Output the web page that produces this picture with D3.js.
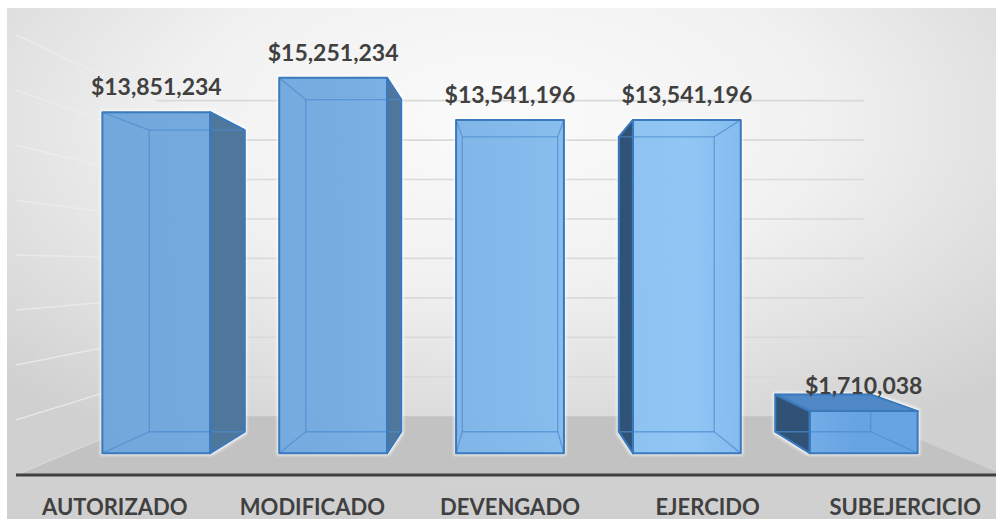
<!DOCTYPE html>
<html><head><meta charset="utf-8">
<script src="https://cdn.jsdelivr.net/npm/d3@7"></script>
<style>html,body{margin:0;padding:0;background:#fff;} svg{display:block;}</style>
</head><body>
<svg id="chart" width="996" height="519"></svg>
<script>
const categories = ["AUTORIZADO", "MODIFICADO", "DEVENGADO", "EJERCIDO", "SUBEJERCICIO"];
const values = [13851234, 15251234, 13541196, 13541196, 1710038];
const gridValues = [0, 2000000, 4000000, 6000000, 8000000, 10000000, 12000000, 14000000, 16000000];

const W = 996, H = 519;
const svg = d3.select("#chart");
const defs = svg.append("defs");

const bg = defs.append("radialGradient").attr("id", "bg")
  .attr("cx", 0.5).attr("cy", 0.22).attr("r", 0.72);
bg.append("stop").attr("offset", 0).attr("stop-color", "#fbfbfb");
bg.append("stop").attr("offset", 0.45).attr("stop-color", "#f1f1f1");
bg.append("stop").attr("offset", 1).attr("stop-color", "#d0d0d0");

const fg = defs.append("linearGradient").attr("id", "front")
  .attr("gradientUnits", "userSpaceOnUse").attr("x1", 0).attr("x2", W).attr("y1", 0).attr("y2", 0);
[[0.10, "#6aa3d9"], [0.33, "#6fa8de"], [0.51, "#7db6ea"], [0.69, "#8cc4f4"], [0.86, "#5f9fe1"]]
  .forEach(([o, c]) => fg.append("stop").attr("offset", o).attr("stop-color", c));

const glow = defs.append("filter").attr("id", "glow").attr("x", "-10%").attr("y", "-10%").attr("width", "120%").attr("height", "120%");
glow.append("feMorphology").attr("in", "SourceAlpha").attr("operator", "dilate").attr("radius", 1.5).attr("result", "d");
glow.append("feGaussianBlur").attr("in", "d").attr("stdDeviation", 1.5).attr("result", "b");
glow.append("feFlood").attr("flood-color", "#ffffff").attr("flood-opacity", 0.85);
glow.append("feComposite").attr("in2", "b").attr("operator", "in");

svg.append("rect").attr("x", 7).attr("y", 8).attr("width", W - 7).attr("height", H - 8).attr("fill", "url(#bg)");

// one-point perspective
const VX = 510, VY = 267;
const S_BAR_FRONT = 0.895, S_BAR_BACK = 0.792, S_WALL = 0.717;
const proj = (X, Y, s) => [VX + s * (X - VX), VY + s * (Y - VY)];

const x = d3.scaleBand().domain(categories).range([16, 1004]).paddingInner(0.39).paddingOuter(0.195);
const y = d3.scaleLinear().domain([0, 16000000]).range([475, 475 - 16 * 27.5]);
const fmt = d3.format("$,");
const line = d3.line();
const poly = pts => line(pts) + "Z";

const X0 = x.range()[0], X1 = x.range()[1];

// floor
svg.append("path")
  .attr("d", poly([proj(X0, y(0), 1), proj(X1, y(0), 1), proj(X1, y(0), S_WALL), proj(X0, y(0), S_WALL)]))
  .attr("fill", "#c2c2c2");

// gridlines: left wall and back wall
const grid = svg.append("g");
gridValues.forEach(v => {
  if (v > 0) {
    grid.append("path").attr("d", line([proj(X0, y(v), 1), proj(X0, y(v), S_WALL)]))
      .attr("stroke", "#eeeeee").attr("stroke-opacity", 0.75).attr("stroke-width", 1.4).attr("fill", "none");
    grid.append("path").attr("d", line([proj(X0, y(v), S_WALL), proj(X1, y(v), S_WALL)]))
      .attr("stroke", "#d9d9d9").attr("stroke-width", 1.6).attr("fill", "none");
  } else {
    grid.append("path").attr("d", line([proj(X0, y(v), 1), proj(X0, y(v), S_WALL)]))
      .attr("stroke", "#d8d8d8").attr("stroke-width", 1.2).attr("fill", "none");
  }
});

// axis line
svg.append("path").attr("d", line([proj(X0, y(0), 1), proj(X1, y(0), 1)]))
  .attr("stroke", "#404040").attr("stroke-width", 3);

// bars
const bars = svg.append("g");
categories.forEach((c, i) => {
  const a = x(c), b = a + x.bandwidth();
  const yt = y(values[i]), yb = y(0);
  const f = S_BAR_FRONT, k = S_BAR_BACK;
  const FTL = proj(a, yt, f), FTR = proj(b, yt, f), FBR = proj(b, yb, f), FBL = proj(a, yb, f);
  const BTL = proj(a, yt, k), BTR = proj(b, yt, k), BBR = proj(b, yb, k), BBL = proj(a, yb, k);
  const g = bars.append("g");
  const showRight = b < VX, showLeft = a > VX, showTop = yt > VY;
  // soft white halo
  const halo = g.append("g").attr("filter", "url(#glow)");
  halo.append("path").attr("d", poly([FTL, FTR, FBR, FBL])).attr("fill", "#000");
  if (showRight) halo.append("path").attr("d", poly([FTR, BTR, BBR, FBR])).attr("fill", "#000");
  if (showLeft) halo.append("path").attr("d", poly([FTL, BTL, BBL, FBL])).attr("fill", "#000");
  if (showTop) halo.append("path").attr("d", poly([FTL, FTR, BTR, BTL])).attr("fill", "#000");

  if (showRight) g.append("path").attr("d", poly([FTR, BTR, BBR, FBR])).attr("fill", "#4f779c");
  if (showLeft) g.append("path").attr("d", poly([FTL, BTL, BBL, FBL])).attr("fill", "#2f5276");
  if (showTop) g.append("path").attr("d", poly([FTL, FTR, BTR, BTL])).attr("fill", "#4f88c4");
  g.append("path").attr("d", poly([FTL, FTR, FBR, FBL])).attr("fill", "url(#front)").attr("fill-opacity", 0.95);
  // see-through edges
  const edges = [[BTL, BTR], [BTR, BBR], [BBR, BBL], [BBL, BTL], [FTL, BTL], [FTR, BTR], [FBR, BBR], [FBL, BBL]];
  edges.forEach(e => g.append("path").attr("d", line(e)).attr("stroke", "#4a8bd0").attr("stroke-opacity", 0.7)
    .attr("stroke-width", 1.3).attr("fill", "none"));
  // visible outline
  const outline = (pts) => g.append("path").attr("d", poly(pts)).attr("fill", "none")
    .attr("stroke", "#3b79bd").attr("stroke-width", 2).attr("stroke-linejoin", "round");
  if (showRight) outline([FTR, BTR, BBR, FBR]);
  if (showLeft) outline([FTL, BTL, BBL, FBL]);
  if (showTop) outline([FTL, FTR, BTR, BTL]);
  outline([FTL, FTR, FBR, FBL]);
});

// value labels
const labels = svg.append("g").attr("font-family", "Lato, 'Open Sans', sans-serif").attr("font-weight", "bold");
categories.forEach((c, i) => {
  const p = proj(x(c) + x.bandwidth() / 2, y(values[i]), S_BAR_FRONT);
  labels.append("text").attr("x", p[0]).attr("y", p[1] - 17).attr("text-anchor", "middle")
    .attr("font-size", 23).attr("fill", "#404040").text(fmt(values[i]));
});
// category labels
categories.forEach(c => {
  const p = proj(x(c) + x.bandwidth() / 2, y(0), 1);
  labels.append("text").attr("x", p[0]).attr("y", 515).attr("text-anchor", "middle")
    .attr("font-size", 22).attr("fill", "#404040").text(c);
});
</script>
</body></html>
